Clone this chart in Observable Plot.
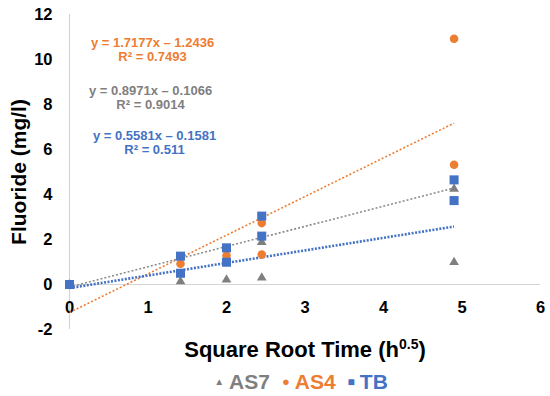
<!DOCTYPE html>
<html><head><meta charset="utf-8">
<script src="https://cdn.jsdelivr.net/npm/d3@7"></script>
<script src="https://cdn.jsdelivr.net/npm/@observablehq/plot@0.6"></script>
<style>
body{margin:0;background:#fff;font-family:"Liberation Sans",Arial,sans-serif;}
#legend{height:34px;display:flex;justify-content:center;align-items:center;font-weight:bold;font-size:21px;padding-left:64px;box-sizing:border-box;width:550px;padding-top:5px;}
#legend .sym{margin-right:5px;}
#legend .lab{margin-right:12px;}
</style></head><body><div id="chart"></div><div id="legend"></div>
<script>
const seriesNames = ["AS7", "AS4", "TB"];
const seriesColors = ["#7f7f7f", "#ed7d31", "#4472c4"];
const as7X = [0, 1.414, 2, 2.449, 2.449, 4.899, 4.899];
const as7Y = [0, 0.13, 0.21, 0.30, 1.88, 0.99, 4.25];
const as4X = [0, 1.414, 2, 2.449, 2.449, 4.899, 4.899];
const as4Y = [0, 0.92, 1.29, 2.73, 1.33, 5.32, 10.92];
const tbX = [0, 1.414, 1.414, 2, 2, 2.449, 2.449, 4.899, 4.899];
const tbY = [0, 1.26, 0.50, 1.63, 0.99, 3.04, 2.15, 4.65, 3.73];
const slopes = [0.8971, 1.7177, 0.5581];
const intercepts = [-0.1066, -1.2436, -0.1581];
const r2Labels = ["0.9014", "0.7493", "0.511"];
const trendXRange = [0, 4.899];
const xTicks = [0, 1, 2, 3, 4, 5, 6];
const yTicks = [-2, 0, 2, 4, 6, 8, 10, 12];

const pts = (xs, ys) => xs.map((x, i) => ({x, y: ys[i]}));
const trend = i => trendXRange.map(x => ({x, y: slopes[i] * x + intercepts[i]}));
const fmtEq = i => `y = ${slopes[i].toFixed(4)}x ${intercepts[i] < 0 ? "\u2013" : "+"} ${Math.abs(intercepts[i]).toFixed(4)}`;

const font = "Liberation Sans, Arial, sans-serif";
// equation label layout: [series index, center dx, dy of eq line]
const eqLayout = [[1, 83, 28], [0, 81, 76], [2, 85, 121]];
const eqMarks = eqLayout.flatMap(([i, dx, dy]) => [
  Plot.text([fmtEq(i)], {frameAnchor: "top-left", dx, dy, fill: seriesColors[i], fontSize: 13, fontWeight: "bold", textAnchor: "middle", lineAnchor: "middle"}),
  Plot.text([`R\u00b2 = ${r2Labels[i]}`], {frameAnchor: "top-left", dx, dy: dy + 14, fill: seriesColors[i], fontSize: 13, fontWeight: "bold", textAnchor: "middle", lineAnchor: "middle"})
]);

const chart = Plot.plot({
  width: 550, height: 362,
  marginLeft: 69, marginRight: 10, marginTop: 14, marginBottom: 33,
  style: {fontFamily: font, background: "#fff"},
  x: {domain: [0, 6], axis: null},
  y: {domain: [-2, 12]},
  marks: [
    Plot.ruleX([0], {stroke: "#d4d4d4", strokeWidth: 1.2}),
    Plot.ruleY([0], {stroke: "#d4d4d4", strokeWidth: 1.2}),
    Plot.axisY({ticks: yTicks, tickSize: 0, tickPadding: 17, fontSize: 16.5, fontWeight: "bold", label: null, tickFormat: d => String(d)}),
    Plot.text(xTicks, {x: d => d, frameAnchor: "bottom", dy: -22, lineAnchor: "middle", fontSize: 16.5, fontWeight: "bold", text: d => String(d)}),
    Plot.line(trend(1), {x: "x", y: "y", stroke: seriesColors[1], strokeWidth: 1.6, strokeLinecap: "butt", strokeDasharray: "2,2"}),
    Plot.line(trend(0), {x: "x", y: "y", stroke: "#8c8c8c", strokeWidth: 1.6, strokeLinecap: "butt", strokeDasharray: "2,2"}),
    Plot.line(trend(2), {x: "x", y: "y", stroke: seriesColors[2], strokeWidth: 2.6, strokeLinecap: "butt", strokeDasharray: "2,1.5"}),
    Plot.dot(pts(as7X, as7Y), {x: "x", y: "y", symbol: "triangle", r: 3.6, fill: seriesColors[0]}),
    Plot.dot(pts(as4X, as4Y), {x: "x", y: "y", symbol: "circle", r: 4.3, fill: seriesColors[1]}),
    Plot.dot(pts(tbX, tbY), {x: "x", y: "y", symbol: "square", r: 5.1, fill: seriesColors[2]}),
    ...eqMarks,
    Plot.text(["Fluoride (mg/l)"], {frameAnchor: "left", dx: -50, rotate: -90, textAnchor: "middle", lineAnchor: "middle", fontSize: 21, fontWeight: "bold", fill: "#000"})
  ]
});

const svg = d3.select(chart);
const t = svg.append("text").attr("x", 305).attr("y", 357).attr("text-anchor", "middle")
  .style("font-family", font).style("font-weight", "bold").style("font-size", "22px").attr("fill", "#000");
t.append("tspan").text("Square Root Time (h");
t.append("tspan").attr("dy", -8).style("font-size", "14px").text("0.5");
t.append("tspan").attr("dy", 8).text(")");

document.getElementById("chart").appendChild(chart);

const symChars = ["\u25B2", "\u25CF", "\u25A0"];
const symSizes = [10, 13, 12];
const leg = d3.select("#legend");
seriesNames.forEach((n, i) => {
  leg.append("span").attr("class", "sym").style("color", seriesColors[i]).style("font-size", symSizes[i] + "px").text(symChars[i]);
  leg.append("span").attr("class", "lab").style("color", seriesColors[i]).text(n);
});
</script></body></html>
